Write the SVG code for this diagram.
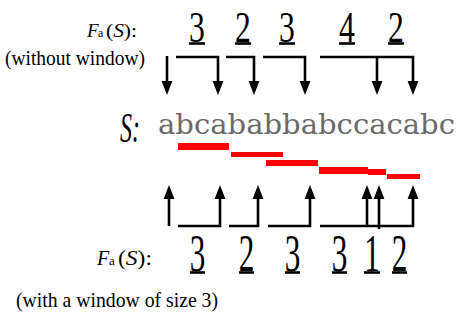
<svg xmlns="http://www.w3.org/2000/svg" width="457" height="322" viewBox="0 0 457 322">
<style>
.lab{font-family:"Liberation Serif","Times New Roman",serif;fill:#000}
.it{font-style:italic}
.dg{font-family:"Liberation Serif","Times New Roman",serif;fill:#000;text-anchor:middle}
.ln{stroke:#000;stroke-width:2.6;fill:none}
.ul{stroke:#000;stroke-width:2.6}
.win{fill:#ff0000}
.str{font-family:"DejaVu Serif","Liberation Serif",serif;fill:#6a6a6a}
</style>
<defs>
<marker id="ah" markerUnits="userSpaceOnUse" markerWidth="14" markerHeight="12" refX="0" refY="5" orient="auto" viewBox="0 0 13 10">
<path d="M0,0 L13,5 L0,10 z" fill="#000"/>
</marker>
</defs>
<g id="top-label">
<text class="lab it" x="87" y="37" font-size="19">F</text>
<text class="lab" x="98" y="37" font-size="12">a</text>
<text class="lab" x="106" y="37" font-size="19" textLength="31" lengthAdjust="spacingAndGlyphs">(<tspan class="it">S</tspan>):</text>
<text class="lab" x="5" y="65" font-size="22" textLength="140" lengthAdjust="spacingAndGlyphs">(without window)</text>
</g>
<g id="top-counts">
<text class="dg" font-size="44" transform="translate(197,42) scale(0.72,1)">3</text>
<text class="dg" font-size="44" transform="translate(243,42) scale(0.72,1)">2</text>
<text class="dg" font-size="44" transform="translate(287,42) scale(0.72,1)">3</text>
<text class="dg" font-size="44" transform="translate(347,42) scale(0.72,1)">4</text>
<text class="dg" font-size="44" transform="translate(396,42) scale(0.72,1)">2</text>
<line class="ul" x1="189" y1="43.5" x2="205" y2="43.5"/>
<line class="ul" x1="235" y1="43.5" x2="251" y2="43.5"/>
<line class="ul" x1="279" y1="43.5" x2="295" y2="43.5"/>
<line class="ul" x1="339" y1="43.5" x2="355" y2="43.5"/>
<line class="ul" x1="388" y1="43.5" x2="404" y2="43.5"/>
</g>
<g id="top-arrows">
<path class="ln" d="M167,56 V81" marker-end="url(#ah)"/>
<path class="ln" d="M176,57 H218 V81" marker-end="url(#ah)"/>
<path class="ln" d="M226,57 H254 V81" marker-end="url(#ah)"/>
<path class="ln" d="M263,57 H305 V81" marker-end="url(#ah)"/>
<path class="ln" d="M320,57 H413 V81" marker-end="url(#ah)"/>
<path class="ln" d="M377,57 V81" marker-end="url(#ah)"/>
</g>
<g id="string">
<text class="lab it" x="120" y="142" font-size="42" textLength="20" lengthAdjust="spacingAndGlyphs">S:</text>
<text class="str" x="158" y="134" font-size="27" textLength="297" lengthAdjust="spacingAndGlyphs">abcababbabccacabc</text>
</g>
<g id="windows">
<rect class="win" x="178" y="143" width="51" height="7"/>
<rect class="win" x="231" y="152" width="52" height="5"/>
<rect class="win" x="266" y="160" width="52" height="6"/>
<rect class="win" x="319" y="167" width="49" height="7"/>
<rect class="win" x="368" y="169" width="18" height="6"/>
<rect class="win" x="387" y="174" width="33" height="5"/>
</g>
<g id="bottom-arrows">
<path class="ln" d="M169,226 V199" marker-end="url(#ah)"/>
<path class="ln" d="M178,226 H220 V199" marker-end="url(#ah)"/>
<path class="ln" d="M229,226 H258 V199" marker-end="url(#ah)"/>
<path class="ln" d="M268,226 H310 V199" marker-end="url(#ah)"/>
<path class="ln" d="M320,226 H413 V199" marker-end="url(#ah)"/>
<path class="ln" d="M367,226 V199" marker-end="url(#ah)"/>
<path class="ln" d="M379,229 V199" marker-end="url(#ah)"/>
</g>
<g id="bottom-label">
<text class="lab it" x="97" y="265" font-size="20">F</text>
<text class="lab" x="109" y="265" font-size="13">a</text>
<text class="lab" x="118" y="265" font-size="20" textLength="34" lengthAdjust="spacingAndGlyphs">(<tspan class="it">S</tspan>):</text>
<text class="lab" x="16" y="307" font-size="22" textLength="202" lengthAdjust="spacingAndGlyphs">(with a window of size 3)</text>
</g>
<g id="bottom-counts">
<text class="dg" font-size="52" transform="translate(197.5,271) scale(0.6,1)">3</text>
<text class="dg" font-size="52" transform="translate(246.5,271) scale(0.6,1)">2</text>
<text class="dg" font-size="52" transform="translate(292.5,271) scale(0.6,1)">3</text>
<text class="dg" font-size="52" transform="translate(339.5,271) scale(0.6,1)">3</text>
<text class="dg" font-size="52" transform="translate(372,271) scale(0.6,1)">1</text>
<text class="dg" font-size="52" transform="translate(399.5,271) scale(0.6,1)">2</text>
<line class="ul" x1="190" y1="272.5" x2="205" y2="272.5"/>
<line class="ul" x1="239" y1="272.5" x2="254" y2="272.5"/>
<line class="ul" x1="285" y1="272.5" x2="300" y2="272.5"/>
<line class="ul" x1="332" y1="272.5" x2="347" y2="272.5"/>
<line class="ul" x1="364" y1="272.5" x2="380" y2="272.5"/>
<line class="ul" x1="392" y1="272.5" x2="407" y2="272.5"/>
</g>
</svg>
